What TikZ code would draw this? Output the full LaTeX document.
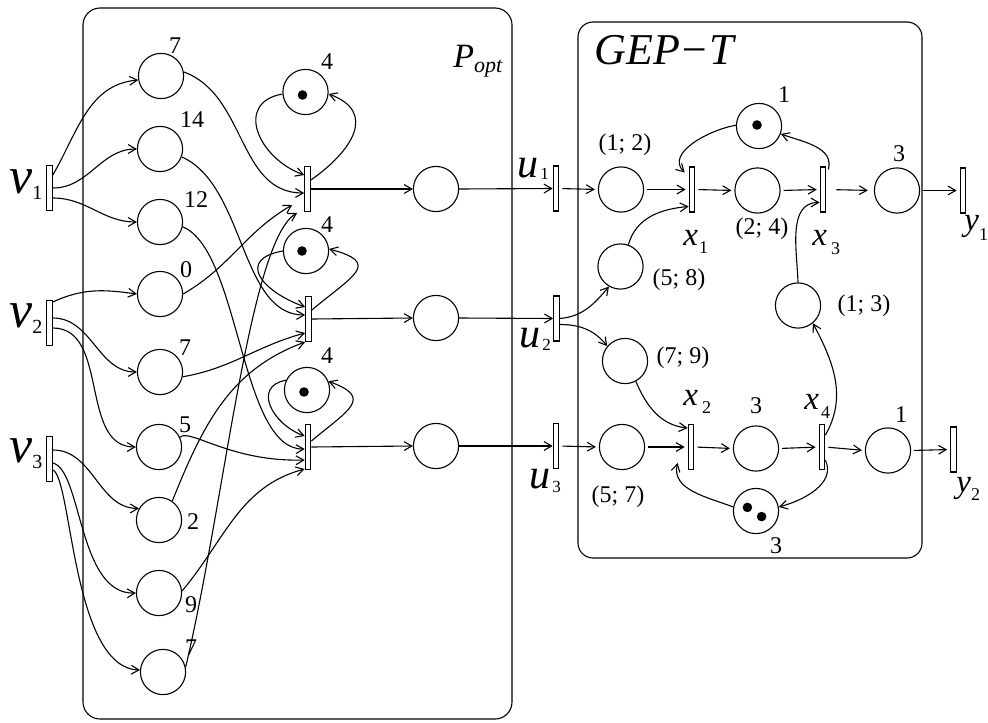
\documentclass[tikz,border=0pt]{standalone}
\usepackage{fontspec}
\setmainfont{Liberation Serif}
\usetikzlibrary{arrows.meta}
\newcommand\myNum{\fontsize{12}{14}\selectfont\upshape}
\newcommand\myV{\fontsize{26}{28}\selectfont\itshape}
\newcommand\myVs{\fontsize{10}{12}\selectfont\upshape}
\newcommand\myU{\fontsize{21}{24}\selectfont\itshape}
\newcommand\myUs{\fontsize{8.5}{10}\selectfont\upshape}
\newcommand\myX{\fontsize{16.5}{18}\selectfont\itshape}
\newcommand\myXs{\fontsize{9}{10}\selectfont\upshape}
\newcommand\myP{\fontsize{17}{19}\selectfont\itshape}
\newcommand\myOpt{\fontsize{11}{12}\selectfont\itshape}
\newcommand\myG{\fontsize{22}{24}\selectfont\itshape}
\tikzset{
  place/.style={circle,draw,line width=0.55pt,minimum size=22.6pt,inner sep=0pt},
  trans/.style={rectangle,draw,line width=0.55pt,minimum width=2.8pt,minimum height=22.5pt,inner sep=0pt,fill=white},
  arr/.style={line width=0.55pt,-{Straight Barb[length=3.8pt,width=4.4pt]}},
  sarr/.style={arr,shorten <=1.5pt,shorten >=1.5pt},
  tok/.style={circle,fill=black,inner sep=0pt,minimum size=4.8pt},
  lbl/.style={inner sep=0pt,font=\myNum},
  tlbl/.style={inner sep=0pt,anchor=base west},
  box/.style={draw,line width=0.55pt}
}
\begin{document}
\begin{tikzpicture}[x=0.5pt,y=-0.5pt]
\useasboundingbox (0,0) rectangle (988,722);
% boxes
\draw[box,rounded corners=8.5pt] (83,8) rectangle (512,719);
\draw[box,rounded corners=7.5pt] (578,22) rectangle (922,558);
% input transitions
\node[trans] (v1) at (49.5,188) {};
\node[trans] (v2) at (49.5,323) {};
\node[trans] (v3) at (49.5,459) {};
% left places
\node[place] (p7a) at (161,76) {};
\node[place] (p14) at (160,149) {};
\node[place] (p12) at (160,222) {};
\node[place] (p0) at (160,294) {};
\node[place] (p7b) at (160,372) {};
\node[place] (p5) at (159,447) {};
\node[place] (p2) at (159,520) {};
\node[place] (p9) at (159,593) {};
\node[place] (p7c) at (163,672) {};
% middle transitions and loop places
\node[trans] (t1) at (307.5,189) {};
\node[trans] (t2) at (308.5,319) {};
\node[trans] (t3) at (308,447) {};
\node[place] (s1) at (305.5,92) {};
\node[place] (s2) at (306,251) {};
\node[place] (s3) at (307,390) {};
\node[tok] (ts1) at ([xshift=-1.5pt,yshift=-1.5pt]s1.center) {};
\node[tok] (ts2) at ([xshift=-2pt]s2.center) {};
\node[tok] (ts3) at ([xshift=-1.5pt,yshift=-1pt]s3.center) {};
\node[place] (o1) at (436,189) {};
\node[place] (o2) at (436,318) {};
\node[place] (o3) at (436,446) {};
\node[trans] (u1) at (556,188.5) {};
\node[trans] (u2) at (556.5,318.5) {};
\node[trans] (u3) at (556,446) {};
% GEP-T
\node[place] (a) at (621,189.5) {};
\node[trans] (x1) at (692,189.5) {};
\node[place] (b) at (757.5,190.5) {};
\node[trans] (x3) at (823,189.5) {};
\node[place] (c) at (897,190.5) {};
\node[trans] (y1) at (963,190.5) {};
\node[place] (k1) at (759,126) {};
\node[tok] (tk1) at ([xshift=-1pt,yshift=0.5pt]k1.center) {};
\node[place] (d) at (620.5,266.5) {};
\node[place] (e) at (798,305.5) {};
\node[place] (f) at (625,361) {};
\node[place] (g) at (622,447) {};
\node[trans] (x2) at (691,447) {};
\node[place] (h) at (756,448.5) {};
\node[trans] (x4) at (822,447) {};
\node[place] (i) at (888,450.5) {};
\node[trans] (y2) at (953.5,449.5) {};
\node[place] (k3) at (756,511) {};
\node[tok] (tk3a) at ([xshift=-4.3pt,yshift=1.8pt]k3.center) {};
\node[tok] (tk3b) at ([xshift=2.8pt,yshift=-2.8pt]k3.center) {};
% v -> places
\draw[arr] ([yshift=6.5pt]v1.east) to[out=60,in=185] (p7a.190);
\draw[arr] (v1.east) to[out=0,in=180] (p14.west);
\draw[arr] ([yshift=-5pt]v1.east) to[out=0,in=180] (p12.west);
\draw[arr] ([yshift=10.5pt]v2.east) to[out=25,in=172] (p0.west);
\draw[arr] ([yshift=2.5pt]v2.east) to[out=0,in=180] (p7b.west);
\draw[arr] ([yshift=-2.5pt]v2.east) to[out=0,in=180] (p5.west);
\draw[arr] ([yshift=4.5pt]v3.east) to[out=0,in=180] (p2.150);
\draw[arr] ([yshift=-2pt]v3.east) .. controls (82,470) and (78,595) .. (p9.west);
\draw[arr] ([yshift=-5.5pt]v3.east) .. controls (72,478) and (72,668) .. (p7c.175);
% places -> middle transitions
\draw[arr] (p7a.10) to[out=-20,in=180] ([yshift=-2pt]t1.west);
\draw[arr] (p14.-20) .. controls (245,185) and (240,315) .. ([yshift=2pt]t2.west);
\draw[arr] (p12.-12) .. controls (240,250) and (240,450) .. ([yshift=-1pt]t3.west);
\draw[arr] (p0.east) to[out=30,in=210] ([xshift=-6pt,yshift=-8pt]t1.west);
\draw[arr] (p7c.12) .. controls (225,500) and (250,240) .. ([xshift=-3.5pt,yshift=-12pt]t1.west);
\draw[arr] (p7b.-12) to[out=10,in=195] ([yshift=-7pt]t2.west);
\draw[arr] (p2.55) to[out=68,in=200] ([yshift=-11.5pt]t2.west);
\draw[arr] (p5.25) .. controls (190,428) and (230,462) .. ([yshift=-6.5pt]t3.west);
\draw[arr] (p9.5) to[out=50,in=195] ([yshift=-11pt]t3.west);
% self loops
\draw[arr] (s1.185) to[out=190,in=160,looseness=1.5] ([yshift=7pt]t1.west);
\draw[arr] ([yshift=4.5pt]t1.east) to[out=35,in=-20,looseness=1.5] (s1.-5);
\draw[arr] (s2.180) to[out=190,in=160,looseness=2] ([yshift=6pt]t2.west);
\draw[arr] ([yshift=4.5pt]t2.east) to[out=40,in=-15,looseness=2.2] (s2.5);
\draw[arr] (s3.155) to[out=190,in=160,looseness=1.5] ([yshift=5.5pt]t3.west);
\draw[arr] ([yshift=3pt]t3.east) to[out=40,in=-20,looseness=2] (s3.22);
% middle -> u
\draw[arr] (t1.east) -- (o1.west);
\draw[arr] (t2.east) -- (o2.west);
\draw[arr] (t3.east) -- (o3.west);
\draw[arr] (o1.east) -- (u1.west);
\draw[arr] (o2.east) -- (u2.west);
\draw[arr] (o3.east) -- (u3.west);
% GEP-T straight arcs
\draw[sarr] (u1.east) -- (a.west);
\draw[sarr] (a.east) -- (x1.west);
\draw[sarr] (x1.east) -- (b.west);
\draw[sarr] (b.east) -- (x3.west);
\draw[arr,shorten <=5pt,shorten >=3pt] (x3.east) -- (c.west);
\draw[sarr] (c.east) -- (y1.west);
\draw[sarr] (u3.east) -- (g.west);
\draw[sarr] (g.east) -- (x2.west);
\draw[sarr] (x2.east) -- (h.west);
\draw[sarr] (h.east) -- (x4.west);
\draw[sarr] (x4.east) -- (i.west);
\draw[sarr] (i.east) -- (y2.west);
% GEP-T curved arcs
\draw[arr] (k1.178) to[out=190,in=135] ([xshift=-2pt,yshift=8.5pt]x1.west);
\draw[arr] ([xshift=1pt,yshift=10pt]x3.east) to[out=75,in=-20] (k1.-20);
\draw[arr] (d.70) to[out=75,in=185] ([yshift=-8.5pt]x1.west);
\draw[arr] (e.north) to[out=92,in=180] ([yshift=-6.5pt]x3.west);
\draw[arr] ([yshift=6pt]x4.east) to[out=60,in=-62] (e.-50);
\draw[arr] ([yshift=-6.5pt]x4.east) to[out=-65,in=15] (k3.10);
\draw[arr] (k3.170) to[out=159,in=256] ([xshift=-5pt,yshift=-8pt]x2.west);
\draw[arr] (f.-62) to[out=-67,in=174] ([yshift=9.5pt]x2.west);
\draw[arr] (u2.east) to[out=5,in=230] (d.240);
\draw[arr] ([yshift=-3pt]u2.east) to[out=0,in=129] (f.140);
% number labels
\node[lbl] (l7a) at (175,46) {7};
\node[lbl] (l14) at (192,120) {14};
\node[lbl] (l12) at (196,200) {12};
\node[lbl] (l0) at (186,270) {0};
\node[lbl] (l7b) at (185,348) {7};
\node[lbl] (l5) at (185,425) {5};
\node[lbl] (l2) at (193,522) {2};
\node[lbl] (l9) at (191,605) {9};
\node[lbl] (l7c) at (191,648) {7};
\node[lbl] (ls1) at (327,62) {4};
\node[lbl] (ls2) at (327,225) {4};
\node[lbl] (ls3) at (327,356) {4};
\node[lbl] (lk1) at (784,95) {1};
\node[lbl] (la) at (625,145) {(1; 2)};
\node[lbl] (lc) at (899,154) {3};
\node[lbl] (lb) at (762,229) {(2; 4)};
\node[lbl] (ld) at (679,280) {(5; 8)};
\node[lbl] (le) at (864,306) {(1; 3)};
\node[lbl] (lf) at (683,358) {(7; 9)};
\node[lbl] (lh) at (756,406) {3};
\node[lbl] (li) at (901,415) {1};
\node[lbl] (lg) at (618,497) {(5; 7)};
\node[lbl] (lk3) at (776,546) {3};
% name labels
\node[tlbl] (lv1) at (9,193) {\myV v\raisebox{-3pt}{\myVs 1}};
\node[tlbl] (lv2) at (9,327) {\myV v\raisebox{-3pt}{\myVs 2}};
\node[tlbl] (lv3) at (9,462) {\myV v\raisebox{-3pt}{\myVs 3}};
\node[tlbl] (lu1) at (517,177) {\myU u\hspace{1pt}\raisebox{-1pt}{\myUs 1}};
\node[tlbl] (lu2) at (519,347) {\myU u\hspace{1pt}\raisebox{-1.5pt}{\myUs 2}};
\node[tlbl] (lu3) at (529,488) {\myU u\hspace{1pt}\raisebox{-2pt}{\myUs 3}};
\node[tlbl] (lx1) at (683,245) {\myX x\hspace{0.5pt}\raisebox{-4pt}{\myXs 1}};
\node[tlbl] (lx3) at (812,245) {\myX x\hspace{2pt}\raisebox{-4.5pt}{\myXs 3}};
\node[tlbl] (lx2) at (683,405) {\myX x\hspace{2pt}\raisebox{-4pt}{\myXs 2}};
\node[tlbl] (lx4) at (804,409) {\myX x\hspace{1pt}\raisebox{-4.5pt}{\myXs 4}};
\node[tlbl] (ly1) at (964,230) {\myX y\raisebox{-5pt}{\myXs 1}};
\node[tlbl] (ly2) at (956,492) {\myX y\raisebox{-4pt}{\myXs 2}};
\node[tlbl] (lP) at (453,68) {\myP P\raisebox{-2.5pt}{\myOpt opt}};
\node[tlbl] (lG) at (594,65) {\myG GEP\textminus T};
\end{tikzpicture}
\end{document}
